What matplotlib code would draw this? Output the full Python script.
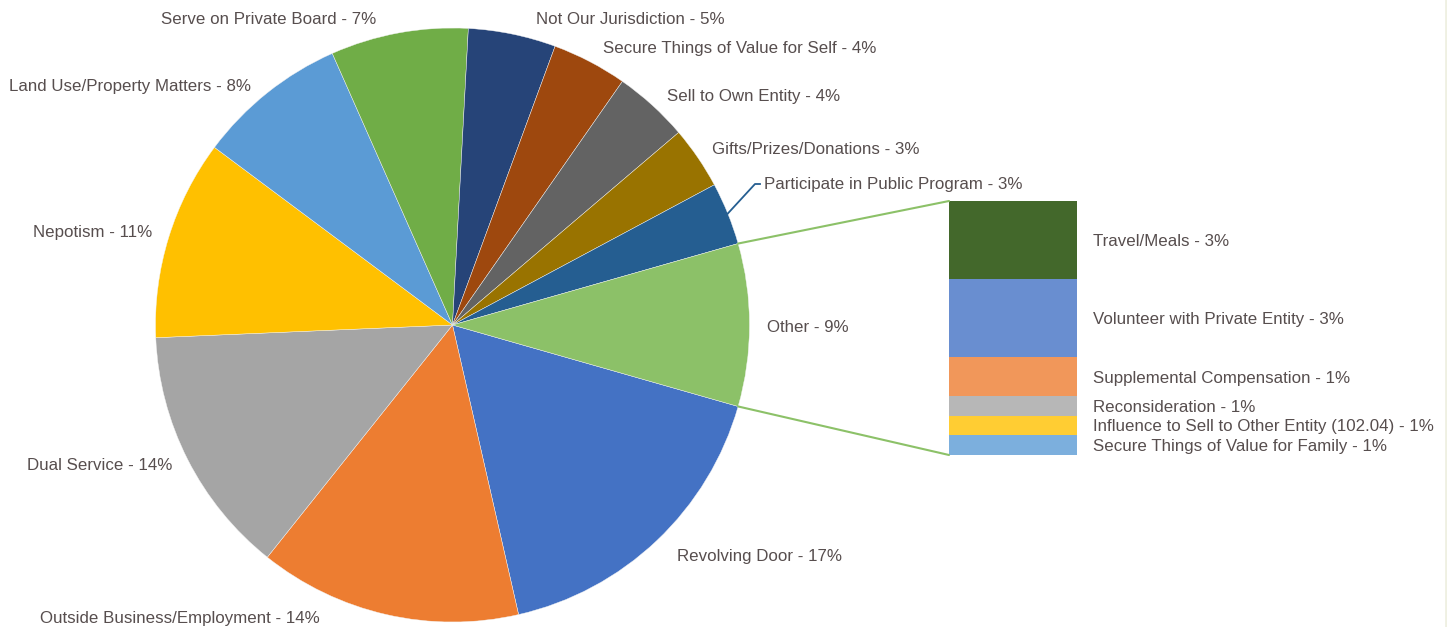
import matplotlib
matplotlib.use("Agg")
import matplotlib.pyplot as plt
import matplotlib.transforms as mtransforms
from matplotlib.patches import ConnectionPatch
from matplotlib.lines import Line2D
import numpy as np

plt.rcParams['font.family'] = ['Liberation Sans', 'DejaVu Sans']

# pie categories (counts), clockwise starting right below "Other"
pie_names = ["Revolving Door", "Outside Business/Employment", "Dual Service", "Nepotism",
             "Land Use/Property Matters", "Serve on Private Board", "Not Our Jurisdiction",
             "Secure Things of Value for Self", "Sell to Own Entity", "Gifts/Prizes/Donations",
             "Participate in Public Program", "Other"]
pie_counts = [25, 21, 20, 16, 12, 11, 7, 6, 6, 5, 5, 13]

# breakdown of "Other" shown in the bar
bar_names = ["Travel/Meals", "Volunteer with Private Entity", "Supplemental Compensation",
             "Reconsideration", "Influence to Sell to Other Entity (102.04)",
             "Secure Things of Value for Family"]
bar_counts = [4, 4, 2, 1, 1, 1]

pie_colors = ["#4472C4", "#ED7D31", "#A5A5A5", "#FFC000", "#5B9BD5", "#70AD47",
              "#264478", "#9E480E", "#636363", "#997300", "#255E91", "#8CC168"]
bar_colors = ["#43682B", "#698ED0", "#F1975A", "#B7B7B7", "#FFCD33", "#7CAFDD"]
txt_color = "#574E4E"
W, H = 1447, 627
fs = 12.15

# label anchor points in image pixels (left x, centre y)
label_pos = [(677, 556), (40, 618), (27, 465), (33, 232), (9, 86), (161, 20),
             (536, 20), (603, 48), (667, 96), (712, 149), (764, 185), (767, 328)]

total = sum(pie_counts)
fig = plt.figure(figsize=(W / 100, H / 100), dpi=100)
ax = fig.add_axes([0, 0, 1, 1])

cx, cy, r = 452.5, H - 325, 297
other_ang = pie_counts[-1] / total * 360
start = -other_ang / 2
wedges, _ = ax.pie(pie_counts, colors=pie_colors, startangle=start, counterclock=False,
                   center=(cx, cy), radius=r,
                   wedgeprops=dict(linewidth=0.3, edgecolor="#F4F4F4"))
ax.set_xlim(0, W)
ax.set_ylim(0, H)
ax.set_aspect("auto")
ax.axis("off")

for name, c, (px, py) in zip(pie_names, pie_counts, label_pos):
    ax.text(px, H - py, f"{name} - {round(c / total * 100)}%", ha="left", va="center",
            fontsize=fs, color=txt_color)

# leader line for "Participate in Public Program"
w = wedges[10]
mid = np.deg2rad((w.theta1 + w.theta2) / 2)
ex, ey = cx + r * np.cos(mid), cy + r * np.sin(mid)
ax.plot([ex, 755, 760], [ey, H - 184, H - 184], color="#255E91", lw=1.3)

# bar of "Other"
ax2 = fig.add_axes([949 / W, (H - 455) / H, 128 / W, 254 / H])
bottoms = np.concatenate([[0], np.cumsum(bar_counts)[:-1]])
ax2.bar([0] * len(bar_counts), bar_counts, bottom=bottoms, width=1, color=bar_colors)
ax2.set_xlim(-0.5, 0.5)
ax2.set_ylim(sum(bar_counts), 0)
ax2.axis("off")
trans = mtransforms.blended_transform_factory(ax2.transAxes, ax2.transData)
shift = mtransforms.ScaledTranslation(0, -0.012, fig.dpi_scale_trans)
for name, c, b in zip(bar_names, bar_counts, bottoms):
    ax2.text(144 / 128, b + c / 2, f"{name} - {round(c / total * 100)}%", transform=trans + shift,
             ha="left", va="center", fontsize=fs, color=txt_color)

# connector lines from the "Other" wedge to the bar
ow = wedges[-1]
for ang, ybar in [(ow.theta2, 0), (ow.theta1, sum(bar_counts))]:
    a = np.deg2rad(ang)
    p = (cx + r * np.cos(a), cy + r * np.sin(a))
    con = ConnectionPatch(xyA=p, coordsA=ax.transData, xyB=(-0.5, ybar), coordsB=ax2.transData,
                          color="#8CC168", lw=1.5)
    fig.add_artist(con)

fig.add_artist(Line2D([1445.5 / W, 1445.5 / W], [0, 1], transform=fig.transFigure,
                      color="#EFF0E2", lw=2))

fig.savefig("out.png", dpi=100)
